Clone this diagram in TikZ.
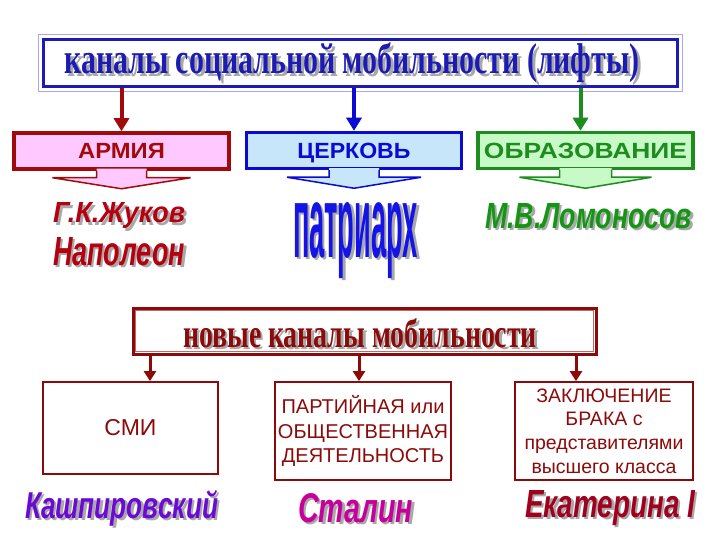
\documentclass[tikz,border=0pt]{standalone}
\usepackage{fontspec}
\setmainfont{Liberation Serif}
\setsansfont{Liberation Sans}
\usetikzlibrary{arrows.meta}
\definecolor{tblue}{HTML}{1C1CB4}
\definecolor{bblue}{HTML}{0A0AD2}
\definecolor{dred}{HTML}{A00A0A}
\definecolor{pinkf}{HTML}{FFC8FF}
\definecolor{lblue}{HTML}{C8E6FA}
\definecolor{dgreen}{HTML}{1E8C1E}
\definecolor{lgreen}{HTML}{C8FAC8}
\definecolor{mred}{HTML}{8C0A0A}
\definecolor{shd}{HTML}{A8A8A8}
\definecolor{violetn}{HTML}{6A0AD2}
\definecolor{magen}{HTML}{C8009B}
\definecolor{ekred}{HTML}{A0001E}
\definecolor{zhred}{HTML}{B4000F}
\definecolor{patblue}{HTML}{1414E6}
\definecolor{lomgreen}{HTML}{149614}
\newcommand\nmfont{\sffamily\bfseries\itshape}
\begin{document}
\begin{tikzpicture}[x=1pt,y=-1pt,
  wa/.style={inner sep=0pt, outer sep=0pt, anchor=base west},
  chan/.style={draw, line width=3.5pt, inner sep=0pt, minimum width=215pt, minimum height=36pt, text height=16pt, text depth=0pt, font=\sffamily\bfseries\fontsize{22}{26}\selectfont},
  topArr/.style={line width=4pt, -{Triangle[width=15pt,length=13pt]}},
  botArr/.style={draw=mred, line width=3pt, -{Triangle[width=12pt,length=10pt]}},
  sub/.style={draw=mred, line width=1.8pt, inner sep=0pt, align=center, text=mred, font=\sffamily\fontsize{20}{24.5}\selectfont},
  pointer/.style={line width=1.5pt}
]
\fill[white] (0,0) rectangle (720,540);
\useasboundingbox (0,0) rectangle (720,540);

% title box
\node[draw=tblue, line width=3pt, minimum width=634pt, minimum height=47pt, inner sep=0pt] (title) at (360,63.5) {};
\draw[blue!35, line width=1pt] ([shift={(-3.5,-3.5)}]title.north west) rectangle ([shift={(3.5,3.5)}]title.south east);
\node[text=shd, inner sep=0pt] (titleS) at (355,66) {\resizebox*{575pt}{40pt}{\bfseries каналы социальной мобильности (лифты)}};
\node[text=tblue, inner sep=0pt] (titleT) at (352,63) {\resizebox*{575pt}{40pt}{\bfseries каналы социальной мобильности (лифты)}};

% channels
\node[chan, draw=dred, fill=pinkf, text=dred] (army) at (121.5,151) {\scalebox{1.08}[1]{АРМИЯ}};
\node[chan, draw=bblue, fill=lblue, text=bblue] (church) at (354,150.5) {\scalebox{1.05}[1]{ЦЕРКОВЬ}};
\node[chan, draw=dgreen, fill=lgreen, text=dgreen] (edu) at (585.5,150.5) {\scalebox{1.2}[1]{ОБРАЗОВАНИЕ}};

\draw[topArr, dred] (title.south -| army.north) -- (army.north);
\draw[topArr, bblue] (title.south -| church.north) -- (church.north);
\coordinate (eduin) at ([xshift=-5]edu.north);
\draw[topArr, dgreen] (title.south -| eduin) -- (eduin);

% pointers under channel boxes
\begin{scope}[shift={(army.south)}]
  \fill[pinkf] (-25,-2) -- (-25,7) -- (-69,7) -- (0,18) -- (69,7) -- (25,7) -- (25,-2) -- cycle;
  \draw[dred, pointer, line join=miter] (-25,0) -- (-25,7) -- (-69,7) -- (0,18) -- (69,7) -- (25,7) -- (25,0);
\end{scope}
\begin{scope}[shift={(church.south)}]
  \fill[lblue] (-25,-2) -- (-25,7) -- (-67,7) -- (0,18) -- (67,7) -- (25,7) -- (25,-2) -- cycle;
  \draw[bblue, pointer, line join=miter] (-25,0) -- (-25,7) -- (-67,7) -- (0,18) -- (67,7) -- (25,7) -- (25,0);
\end{scope}
\begin{scope}[shift={(edu.south)}]
  \fill[lgreen] (-26,-2) -- (-26,7) -- (-66,7) -- (0,18) -- (66,7) -- (26,7) -- (26,-2) -- cycle;
  \draw[dgreen, pointer, line join=miter] (-26,0) -- (-26,7) -- (-66,7) -- (0,18) -- (66,7) -- (26,7) -- (26,0);
\end{scope}

% names (top)
\node[wa, text=shd] (zhukovS) at (55.5,225.5) {\resizebox{132pt}{20pt}{\nmfont Г.К.Жуков}};
\node[wa, text=zhred] (zhukov) at (53,223) {\resizebox{132pt}{20pt}{\nmfont Г.К.Жуков}};
\node[wa, text=shd] (napS) at (55.5,267.5) {\resizebox{132pt}{28pt}{\nmfont Наполеон}};
\node[wa, text=zhred] (nap) at (53,265) {\resizebox{132pt}{28pt}{\nmfont Наполеон}};
\node[wa, text=shd] (patS) at (295.5,259.5) {\resizebox{125pt}{55pt}{\sffamily\bfseries патриарх}};
\node[wa, text=patblue] (pat) at (293,257) {\resizebox{125pt}{55pt}{\sffamily\bfseries патриарх}};
\node[wa, text=shd] (lomS) at (487.5,230.5) {\resizebox{207pt}{25pt}{\nmfont М.В.Ломоносов}};
\node[wa, text=lomgreen] (lom) at (485,228) {\resizebox{207pt}{25pt}{\nmfont М.В.Ломоносов}};

% new channels
\node[draw=mred, line width=3pt, minimum width=463pt, minimum height=46pt, inner sep=0pt] (newch) at (364.5,331) {};
\draw[mred!60, line width=0.8pt] ([shift={(4,4)}]newch.north west) rectangle ([shift={(-4,-4)}]newch.south east);
\node[wa, text=shd] (newtS) at (185.5,349.5) {\resizebox{354pt}{29pt}{\bfseries новые каналы мобильности}};
\node[wa, text=mred] (newt) at (183,347) {\resizebox{354pt}{29pt}{\bfseries новые каналы мобильности}};

\node[sub, minimum width=175pt, minimum height=92pt, font=\sffamily\fontsize{23}{26}\selectfont] (smi) at (130.5,428) {СМИ};
\node[sub, minimum width=176pt, minimum height=98pt] (party) at (363,431) {ПАРТИЙНАЯ или\\ОБЩЕСТВЕННАЯ\\ДЕЯТЕЛЬНОСТЬ};
\node[sub, minimum width=178pt, minimum height=98pt, font=\sffamily\fontsize{19.5}{23.7}\selectfont] (marr) at (604,431) {ЗАКЛЮЧЕНИЕ\\БРАКА с\\представителями\\высшего класса};

\coordinate (a1) at ([xshift=19.5]smi.north);
\coordinate (a2) at ([xshift=-4]party.north);
\coordinate (a3) at ([xshift=-28]marr.north);
\draw[botArr] (newch.south -| a1) -- (a1);
\draw[botArr] (newch.south -| a2) -- (a2);
\draw[botArr] (newch.south -| a3) -- (a3);

% names (bottom)
\node[wa, text=shd] (kashS) at (27.5,520.5) {\resizebox{193pt}{28pt}{\nmfont Кашпировский}};
\node[wa, text=violetn] (kash) at (25,518) {\resizebox{193pt}{28pt}{\nmfont Кашпировский}};
\node[wa, text=shd] (stalS) at (300.5,524.5) {\resizebox{115pt}{29pt}{\nmfont Сталин}};
\node[wa, text=magen] (stal) at (298,522) {\resizebox{115pt}{29pt}{\nmfont Сталин}};
\node[wa, text=shd] (ekS) at (527.5,519.5) {\resizebox{170pt}{27pt}{\nmfont Екатерина I}};
\node[wa, text=ekred] (ek) at (525,517) {\resizebox{170pt}{27pt}{\nmfont Екатерина I}};
\end{tikzpicture}
\end{document}
